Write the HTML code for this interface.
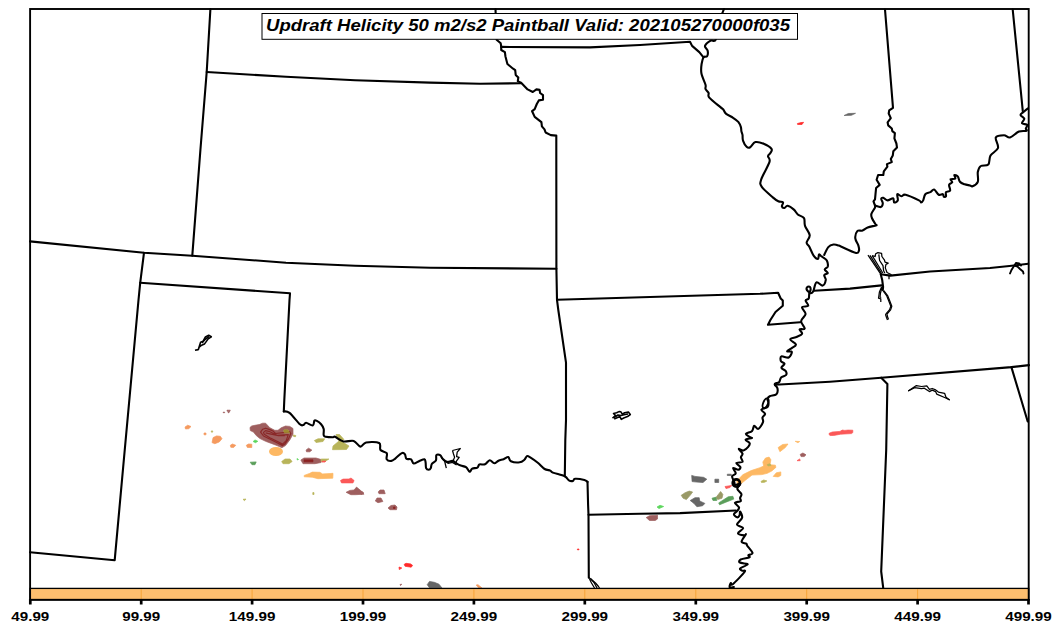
<!DOCTYPE html>
<html><head><meta charset="utf-8"><style>
html,body{margin:0;padding:0;background:#fff;width:1062px;height:633px;overflow:hidden}
svg{display:block}
text{font-family:"Liberation Sans",sans-serif}
</style></head><body>
<svg width="1062" height="633" viewBox="0 0 1062 633">
<rect x="0" y="0" width="1062" height="633" fill="#fff"/>
<g>
<path d="M250.0,427.4 L251.7,426.0 L254.9,425.3 L259.2,424.6 L262.7,423.2 L265.6,423.2 L269.9,427.8 L274.8,430.3 L278.0,430.3 L281.2,427.8 L285.5,426.0 L289.8,426.4 L293.0,428.5 L293.0,434.2 L289.8,439.9 L285.5,445.6 L281.9,447.7 L277.0,445.6 L271.3,443.4 L265.6,441.3 L259.9,438.5 L256.3,435.6 L253.5,432.1 L250.3,430.6 Z" fill="#9e5e5e" stroke="#9e5e5e" stroke-width="0.7" stroke-linejoin="round"/>
<path d="M284.0,430.0 L288.0,430.0 L289.8,432.8 L284.0,432.8 Z" fill="#b8b45a" stroke="#b8b45a" stroke-width="0.7" stroke-linejoin="round"/>
<ellipse cx="276" cy="451.5" rx="7" ry="4.5" fill="#fdb863"/>
<path d="M246.3,445.3 L248.5,444.0 L251.8,444.2 L251.8,447.5 L247.4,447.5 Z" fill="#f59a5e" stroke="#f59a5e" stroke-width="0.7" stroke-linejoin="round"/>
<path d="M253.1,441.5 L255.0,439.9 L257.8,441.3 L255.5,442.7 Z" fill="#5cd65c" stroke="#5cd65c" stroke-width="0.7" stroke-linejoin="round"/>
<path d="M293.3,435.0 L295.8,435.5 L295.5,436.7 L293.6,436.5 Z" fill="#b8b45a" stroke="#b8b45a" stroke-width="0.7" stroke-linejoin="round"/>
<path d="M213.1,437.6 L216.5,435.9 L220.3,436.3 L222.0,438.7 L219.2,442.0 L214.8,443.7 L212.0,442.6 Z" fill="#f59a5e" stroke="#f59a5e" stroke-width="0.7" stroke-linejoin="round"/>
<path d="M230.3,445.3 L232.5,444.0 L235.8,445.3 L233.6,447.5 L230.8,447.3 Z" fill="#f59a5e" stroke="#f59a5e" stroke-width="0.7" stroke-linejoin="round"/>
<path d="M185.0,427.1 L187.7,425.2 L191.0,426.5 L188.8,428.7 L185.5,429.0 Z" fill="#f59a5e" stroke="#f59a5e" stroke-width="0.7" stroke-linejoin="round"/>
<path d="M204.0,433.0 L206.0,433.0 L206.0,434.8 L204.0,434.8 Z" fill="#f59a5e" stroke="#f59a5e" stroke-width="0.7" stroke-linejoin="round"/>
<path d="M211.0,431.0 L213.0,431.0 L212.0,432.6 Z" fill="#b8b45a" stroke="#b8b45a" stroke-width="0.7" stroke-linejoin="round"/>
<path d="M223.1,412.2 L224.7,412.2 L224.7,412.7 L223.1,412.7 Z" fill="#9e5e5e" stroke="#9e5e5e" stroke-width="0.7" stroke-linejoin="round"/>
<path d="M227.0,410.2 L230.3,410.2 L229.0,412.7 L228.0,412.7 L228.5,411.2 L227.0,411.2 Z" fill="#9e5e5e" stroke="#9e5e5e" stroke-width="0.7" stroke-linejoin="round"/>
<path d="M314.4,440.5 L318.0,438.8 L324.7,438.8 L323.0,441.5 L316.0,442.5 Z" fill="#b8b45a" stroke="#b8b45a" stroke-width="0.7" stroke-linejoin="round"/>
<path d="M336.0,434.5 L339.5,434.5 L344.0,439.5 L341.0,441.0 L349.0,446.0 L346.5,449.5 L332.5,449.7 L333.0,446.0 L339.0,441.0 Z" fill="#b8b45a" stroke="#b8b45a" stroke-width="0.7" stroke-linejoin="round"/>
<path d="M306.1,450.0 L308.5,448.2 L311.8,450.0 L310.0,451.8 L306.5,451.8 Z" fill="#9e5e5e" stroke="#9e5e5e" stroke-width="0.7" stroke-linejoin="round"/>
<path d="M281.7,461.5 L285.0,459.0 L290.0,459.0 L292.1,461.5 L289.0,463.7 L283.0,463.7 Z" fill="#b8b45a" stroke="#b8b45a" stroke-width="0.7" stroke-linejoin="round"/>
<path d="M300.9,460.0 L304.0,458.0 L316.0,458.0 L321.1,459.5 L321.1,462.5 L315.0,463.7 L303.0,463.7 Z" fill="#9e5e5e" stroke="#9e5e5e" stroke-width="0.7" stroke-linejoin="round"/>
<path d="M304.0,459.8 L313.0,459.8 L313.0,461.8 L304.0,461.8 Z" fill="#8b2222" stroke="#8b2222" stroke-width="0.7" stroke-linejoin="round"/>
<path d="M321.1,459.0 L328.9,459.0 L325.0,461.5 L321.1,461.5 Z" fill="#b8b45a" stroke="#b8b45a" stroke-width="0.7" stroke-linejoin="round"/>
<path d="M322.0,461.1 L325.8,461.1 L325.0,462.1 L322.0,462.1 Z" fill="#fb5858" stroke="#fb5858" stroke-width="0.7" stroke-linejoin="round"/>
<path d="M297.0,458.5 L298.5,459.5 L297.3,460.0 Z" fill="#5cd65c" stroke="#5cd65c" stroke-width="0.7" stroke-linejoin="round"/>
<path d="M304.2,475.4 L309.4,473.5 L312.2,472.1 L319.8,472.3 L322.6,473.9 L330.1,473.5 L333.0,473.3 L332.8,478.2 L317.9,478.7 L312.2,477.2 L304.2,476.8 Z" fill="#fdb863" stroke="#fdb863" stroke-width="0.7" stroke-linejoin="round"/>
<path d="M340.5,480.5 L343.0,479.1 L349.0,479.0 L351.0,478.0 L354.1,480.5 L353.0,482.9 L341.5,482.9 Z" fill="#fb5858" stroke="#fb5858" stroke-width="0.7" stroke-linejoin="round"/>
<path d="M346.1,492.3 L349.9,490.4 L354.1,490.0 L356.5,487.1 L358.9,489.0 L362.1,491.8 L364.0,494.2 L355.6,494.7 L350.8,494.7 Z" fill="#9e5e5e" stroke="#9e5e5e" stroke-width="0.7" stroke-linejoin="round"/>
<path d="M378.2,492.0 L380.0,490.0 L384.0,490.0 L385.2,493.7 L379.0,493.7 Z" fill="#9e5e5e" stroke="#9e5e5e" stroke-width="0.7" stroke-linejoin="round"/>
<path d="M375.3,501.0 L377.0,498.0 L381.0,498.0 L382.9,501.5 L378.0,502.7 Z" fill="#9e5e5e" stroke="#9e5e5e" stroke-width="0.7" stroke-linejoin="round"/>
<path d="M388.0,508.0 L391.0,505.5 L395.0,505.0 L397.0,507.0 L396.5,509.7 L390.0,509.7 Z" fill="#9e5e5e" stroke="#9e5e5e" stroke-width="0.7" stroke-linejoin="round"/>
<path d="M393.5,507.0 L395.0,507.0 L395.0,508.5 L393.5,508.5 Z" fill="#8b2222" stroke="#8b2222" stroke-width="0.7" stroke-linejoin="round"/>
<path d="M404.1,564.4 L406.0,563.3 L410.7,563.9 L412.6,565.4 L411.2,567.2 L405.1,566.3 Z" fill="#ff2a2a" stroke="#ff2a2a" stroke-width="0.7" stroke-linejoin="round"/>
<path d="M399.0,567.0 L401.8,568.0 L399.3,569.6 Z" fill="#ff2a2a" stroke="#ff2a2a" stroke-width="0.7" stroke-linejoin="round"/>
<path d="M427.2,584.7 L429.5,581.4 L434.3,582.3 L439.0,584.2 L441.8,587.8 L429.5,587.8 Z" fill="#666666" stroke="#666666" stroke-width="0.7" stroke-linejoin="round"/>
<path d="M476.2,585.0 L478.0,584.7 L481.8,587.8 L478.5,587.8 Z" fill="#f59a5e" stroke="#f59a5e" stroke-width="0.7" stroke-linejoin="round"/>
<path d="M400.0,584.5 L401.8,584.2 L400.5,585.6 Z" fill="#9e5e5e" stroke="#9e5e5e" stroke-width="0.7" stroke-linejoin="round"/>
<path d="M360.0,492.5 L362.0,491.4 L363.8,493.0 L361.0,494.6 Z" fill="#9e5e5e" stroke="#9e5e5e" stroke-width="0.7" stroke-linejoin="round"/>
<path d="M577.4,549.0 L579.0,549.0 L579.0,549.8 L577.4,549.8 Z" fill="#ff2a2a" stroke="#ff2a2a" stroke-width="0.7" stroke-linejoin="round"/>
<path d="M691.7,475.4 L695.0,476.4 L703.5,477.3 L706.8,479.2 L703.0,482.5 L696.9,482.1 L692.1,481.6 Z" fill="#666666" stroke="#666666" stroke-width="0.7" stroke-linejoin="round"/>
<path d="M714.9,479.2 L718.7,479.2 L718.7,482.5 L714.9,482.5 Z" fill="#666666" stroke="#666666" stroke-width="0.7" stroke-linejoin="round"/>
<path d="M725.0,486.5 L731.8,485.4 L730.0,487.5 L726.0,488.6 Z" fill="#fb5858" stroke="#fb5858" stroke-width="0.7" stroke-linejoin="round"/>
<path d="M681.2,495.3 L685.5,492.5 L689.3,491.1 L692.6,492.0 L690.2,495.3 L686.4,499.6 L683.1,498.2 Z" fill="#999966" stroke="#999966" stroke-width="0.7" stroke-linejoin="round"/>
<path d="M690.2,500.5 L695.0,497.7 L699.2,497.7 L699.7,501.0 L704.9,503.4 L702.6,505.8 L696.9,506.7 L694.0,503.4 Z" fill="#666666" stroke="#666666" stroke-width="0.7" stroke-linejoin="round"/>
<path d="M715.8,497.7 L720.6,491.5 L722.9,494.4 L722.0,498.2 L717.7,499.6 Z" fill="#999966" stroke="#999966" stroke-width="0.7" stroke-linejoin="round"/>
<path d="M712.0,498.2 L715.8,497.2 L716.8,500.5 L713.0,500.5 Z" fill="#5a9e5a" stroke="#5a9e5a" stroke-width="0.7" stroke-linejoin="round"/>
<path d="M718.7,502.9 L728.2,496.8 L732.9,496.3 L733.8,499.1 L725.3,502.4 L719.6,504.8 Z" fill="#5a9e5a" stroke="#5a9e5a" stroke-width="0.7" stroke-linejoin="round"/>
<path d="M657.0,507.0 L660.0,505.3 L663.7,506.5 L659.0,508.6 Z" fill="#5cd65c" stroke="#5cd65c" stroke-width="0.7" stroke-linejoin="round"/>
<path d="M646.2,517.6 L649.5,515.7 L657.5,515.2 L657.5,519.0 L655.2,520.5 L649.5,520.5 Z" fill="#9e5e5e" stroke="#9e5e5e" stroke-width="0.7" stroke-linejoin="round"/>
<path d="M736.7,480.9 L743.0,474.6 L751.1,470.6 L759.2,467.9 L763.7,466.1 L762.8,462.0 L765.5,458.0 L769.1,457.1 L770.9,459.8 L770.0,464.7 L775.4,465.2 L775.9,467.4 L771.8,471.0 L767.3,473.3 L761.9,474.6 L752.0,475.1 L745.7,480.0 L741.2,483.6 L737.6,485.4 Z" fill="#fdb863" stroke="#fdb863" stroke-width="0.7" stroke-linejoin="round"/>
<path d="M767.3,464.5 L770.0,463.8 L771.0,465.5 L768.0,466.0 Z" fill="#b8b45a" stroke="#b8b45a" stroke-width="0.7" stroke-linejoin="round"/>
<path d="M773.2,476.4 L776.3,472.8 L780.8,471.9 L780.8,475.5 L778.1,476.9 Z" fill="#fdb863" stroke="#fdb863" stroke-width="0.7" stroke-linejoin="round"/>
<path d="M778.1,447.6 L782.6,444.5 L788.0,444.0 L785.3,447.6 L779.9,451.7 Z" fill="#fdb863" stroke="#fdb863" stroke-width="0.7" stroke-linejoin="round"/>
<path d="M795.2,441.3 L799.7,441.5 L797.9,442.7 Z" fill="#fdb863" stroke="#fdb863" stroke-width="0.7" stroke-linejoin="round"/>
<path d="M761.0,481.4 L763.7,480.0 L766.9,480.9 L764.6,482.3 L761.5,482.5 Z" fill="#b8b45a" stroke="#b8b45a" stroke-width="0.7" stroke-linejoin="round"/>
<path d="M800.2,454.4 L802.9,453.0 L806.0,454.8 L804.2,456.6 L801.1,456.6 Z" fill="#9e5e5e" stroke="#9e5e5e" stroke-width="0.7" stroke-linejoin="round"/>
<path d="M797.0,460.7 L799.7,458.9 L800.2,460.7 Z" fill="#fb5858" stroke="#fb5858" stroke-width="0.7" stroke-linejoin="round"/>
<path d="M829.1,433.3 L832.3,432.0 L840.0,431.4 L842.2,430.1 L844.8,430.4 L848.0,430.1 L852.8,430.2 L852.8,432.6 L851.5,433.6 L840.6,434.2 L833.6,435.5 L830.1,435.5 L829.1,434.6 Z" fill="#fb5858" stroke="#fb5858" stroke-width="0.7" stroke-linejoin="round"/>
<path d="M250.2,462.2 L256.2,461.9 L255.0,464.7 L252.0,464.7 Z" fill="#5a9e5a" stroke="#5a9e5a" stroke-width="0.7" stroke-linejoin="round"/>
<path d="M243.0,499.3 L246.0,499.0 L244.5,500.7 Z" fill="#b8b45a" stroke="#b8b45a" stroke-width="0.7" stroke-linejoin="round"/>
<path d="M312.8,492.6 L314.0,492.6 L314.0,494.5 L312.8,494.5 Z" fill="#b8b45a" stroke="#b8b45a" stroke-width="0.7" stroke-linejoin="round"/>
<path d="M727.3,474.2 L731.3,474.2 L731.3,475.5 L727.3,475.5 Z" fill="#666666" stroke="#666666" stroke-width="0.7" stroke-linejoin="round"/>
<path d="M844.1,115.5 L848.3,113.5 L855.5,113.3 L851.4,115.3 Z" fill="#666666" stroke="#666666" stroke-width="0.7" stroke-linejoin="round"/>
<path d="M797.4,123.5 L801.0,122.6 L803.6,122.3 L802.0,124.5 L797.6,124.5 Z" fill="#ff2a2a" stroke="#ff2a2a" stroke-width="0.7" stroke-linejoin="round"/>
<path d="M260.6,432.1 L262.7,429.2 L265.6,428.2 L269.9,429.6 L273.4,431.3 L275.5,433.5 L285.5,432.4 L289.8,431.7 L290.8,433.5 L288.3,439.2 L284.8,444.1 L282.6,445.6 L277,442.7 L270.6,439.5 L263.5,436 Z M263.5,432.4 L265.6,430.6 L269.9,431.7 L274.1,433.8 L277,435.3 L288.3,434.6 L286.2,440.6 L282.6,444.1 L277,441.3 L269.9,437.7 L264.2,434.2 Z M265.6,432.8 L269.9,433.8 L278.4,435.6 L284.8,435.6" fill="none" stroke="#8a2828" stroke-width="1.2" stroke-linejoin="round"/>
<path d="M284,430 L287.5,429.8 L289.8,432.6 L284.2,432.8 Z" fill="#a08a30" stroke="#a08a30" stroke-width="0.6"/>
</g>
<g fill="none" stroke="#000" stroke-width="2.1" stroke-linejoin="round" stroke-linecap="round">
<path d="M210.4,9.0 L206.7,72.0 L200.4,150.0 L192.3,255.7"/>
<path d="M206.7,72.0 L286.0,76.8 L355.0,80.2 L430.0,82.6 L480.0,83.7 L520.9,83.2"/>
<path d="M30.0,241.4 L144.0,252.7 L192.3,255.7 L286.0,262.7 L355.0,265.7 L430.3,267.7 L556.4,268.8"/>
<path d="M144.0,252.7 L140.2,282.8 L138.5,300.0 L124.0,458.0 L114.7,560.2 L30.0,552.2"/>
<path d="M140.2,282.8 L290.0,293.3 L289.5,300.0 L284.3,400.0 L283.8,411.4"/>
<path d="M283.8,411.4 C284.8,411.6 286.8,410.8 289.5,412.9 C292.2,415.0 297.6,422.3 299.9,424.3 C302.2,426.3 302.5,425.1 303.5,424.9 C304.5,424.6 304.6,422.7 306.1,422.8 C307.7,422.9 311.4,425.8 312.8,425.4 C314.2,425.0 313.8,421.5 314.4,420.7 C315.0,419.9 315.3,420.1 316.4,420.7 C317.5,421.3 319.9,422.9 321.1,424.3 C322.3,425.7 323.3,427.2 323.7,429.0 C324.1,430.8 323.3,433.9 323.7,435.2 C324.1,436.5 324.2,436.4 325.8,436.8 C327.4,437.2 331.4,437.3 333.0,437.3 C334.6,437.3 333.4,436.1 335.1,436.8 C336.8,437.5 340.3,440.7 343.4,441.4 C346.5,442.1 350.9,440.0 353.7,440.9 C356.5,441.8 358.3,446.3 360.4,446.6 C362.5,446.9 363.0,443.1 366.1,442.5 C369.2,441.9 376.7,441.8 379.1,443.0 C381.5,444.2 379.2,448.3 380.5,450.0 C381.8,451.7 385.7,451.6 386.7,453.1 C387.7,454.7 385.9,458.0 386.7,459.3 C387.5,460.6 389.9,461.1 391.4,460.9 C392.9,460.7 393.8,459.6 395.5,458.3 C397.2,457.0 400.2,453.8 401.8,453.1 C403.4,452.4 404.1,453.2 404.9,454.2 C405.7,455.1 405.4,457.9 406.4,458.8 C407.4,459.7 409.9,458.5 411.1,459.3 C412.3,460.1 412.3,463.2 413.7,463.5 C415.1,463.8 417.6,461.6 419.4,460.9 C421.2,460.2 423.5,459.1 424.5,459.3 C425.5,459.6 425.3,460.9 425.6,462.4 C425.9,463.9 425.6,466.9 426.1,468.1 C426.6,469.3 427.9,469.7 428.7,469.7 C429.5,469.7 430.3,469.1 430.8,468.1 C431.3,467.2 431.0,465.3 431.8,464.0 C432.6,462.7 435.1,461.9 435.9,460.4 C436.7,458.9 435.7,456.1 436.4,455.2 C437.1,454.3 439.0,454.5 440.1,455.2 C441.2,455.9 442.0,458.2 443.2,459.3 C444.4,460.4 445.8,461.6 447.3,461.9 C448.9,462.2 450.9,460.6 452.5,460.9 C454.1,461.2 455.2,462.7 456.6,463.5 C458.0,464.3 459.2,465.0 460.8,465.6 C462.4,466.2 464.5,466.1 466.0,467.1 C467.5,468.1 468.6,471.5 469.6,471.8 C470.6,472.1 470.9,469.4 472.2,468.7 C473.5,468.0 476.2,468.3 477.4,467.6 C478.6,466.9 478.1,465.1 479.4,464.5 C480.7,463.9 483.3,465.0 485.0,464.3 C486.7,463.6 488.1,460.4 489.7,460.2 C491.2,460.0 492.8,463.2 494.3,463.3 C495.8,463.4 496.9,461.4 498.5,460.7 C500.1,460.0 502.0,459.8 503.6,459.2 C505.2,458.6 507.1,456.8 508.3,457.1 C509.5,457.4 509.0,460.3 510.9,461.2 C512.8,462.1 517.5,462.6 519.7,462.3 C522.0,462.1 523.2,460.7 524.4,459.7 C525.6,458.7 526.0,456.5 527.0,456.1 C528.0,455.8 528.8,456.5 530.6,457.6 C532.4,458.7 535.5,460.9 537.8,462.8 C540.1,464.7 542.5,467.7 544.6,469.0 C546.7,470.3 548.9,470.0 550.3,470.6 C551.7,471.2 550.4,471.7 552.8,472.6 C555.2,473.6 562.1,475.0 564.8,476.3 C567.5,477.6 567.5,479.6 568.9,480.4 C570.3,481.2 572.0,481.2 573.0,480.9 C574.0,480.6 573.2,479.0 575.1,478.8 C577.0,478.6 582.3,479.4 584.4,479.9 C586.5,480.4 587.0,481.6 587.5,481.9"/>
<path d="M557.0,299.8 L558.3,310.0 L566.0,362.7 L566.0,420.0 L565.3,440.0 L564.8,476.3"/>
<path d="M587.5,481.9 L588.1,505.0 L588.5,514.7 L588.8,577.8"/>
<path d="M588.5,514.7 L640.0,513.8 L680.0,513.1 L735.9,510.5"/>
<path d="M495.5,9.0 L496.6,39.7 L500.7,43.3 L501.2,46.4 L501.2,50.0 L504.9,52.1 L505.4,56.2 L507.4,64.0 L513.1,68.7 L515.2,70.2 L515.7,74.9 L518.3,77.5 L517.8,81.1 L520.9,82.6 L527.6,89.4 L532.8,92.0 L536.4,89.4 L539.6,89.9 L540.1,93.0 L543.0,95.2 L543.0,99.8 L538.8,100.4 L536.8,104.0 L534.7,109.2 L532.1,111.2 L534.7,116.9 L541.4,122.1 L541.9,126.3 L544.5,129.4 L545.6,132.5 L550.8,135.1 L556.3,135.6 L556.3,155.0 L556.4,269.0 L557.0,299.8"/>
<path d="M501.2,46.9 L590.0,47.4 L640.0,45.0 L690.0,41.7 L692.1,45.9 L699.3,52.1 L703.5,57.3"/>
<path d="M724.0,9.0 C723.3,10.8 721.4,14.9 720.0,20.0 C718.6,25.1 717.4,35.9 715.9,39.4 C714.4,42.9 712.5,39.6 710.7,40.7 C708.9,41.8 705.5,44.3 705.0,45.9 C704.5,47.5 707.2,48.8 707.6,50.5 C708.0,52.2 707.8,55.1 707.1,56.2 C706.4,57.3 704.4,56.0 703.5,57.3 C702.6,58.6 702.0,61.3 701.6,64.0 C701.2,66.7 700.8,69.8 701.4,73.3 C702.0,76.8 704.8,82.1 705.5,84.7 C706.2,87.3 705.0,87.5 705.5,88.9 C706.0,90.3 708.0,91.5 708.6,93.0 C709.2,94.5 707.3,95.2 709.3,97.6 C711.3,100.0 718.4,105.4 720.7,107.4 C723.0,109.4 722.4,108.5 723.3,109.5 C724.2,110.5 724.3,112.2 725.9,113.6 C727.5,115.0 731.0,116.4 733.1,117.8 C735.2,119.2 737.0,120.4 738.3,121.9 C739.6,123.5 740.4,125.5 740.9,127.1 C741.4,128.7 741.1,130.0 741.4,131.3 C741.7,132.6 742.2,133.4 742.5,134.9 C742.8,136.4 742.3,138.6 743.0,140.6 C743.7,142.6 745.4,145.7 746.6,146.8 C747.8,147.9 748.7,148.1 750.2,147.3 C751.7,146.5 753.1,142.7 755.4,142.1 C757.6,141.5 761.0,142.6 763.7,143.7 C766.4,144.8 770.4,147.3 771.5,148.9 C772.6,150.5 771.0,151.8 770.4,153.0 C769.8,154.2 768.1,154.7 768.0,156.2 C767.9,157.7 770.6,158.0 769.5,161.9 C768.4,165.8 762.5,175.3 761.2,179.5 C759.9,183.7 759.8,183.8 761.8,186.8 C763.8,189.8 770.4,195.2 773.1,197.6 C775.9,200.0 776.6,200.5 778.3,201.3 C779.9,202.1 782.4,201.5 783.0,202.3 C783.6,203.2 781.6,205.5 781.9,206.4 C782.1,207.3 783.5,208.1 784.5,208.0 C785.5,207.9 786.0,205.4 787.6,205.7 C789.2,206.0 792.2,208.1 793.9,209.6 C795.6,211.1 796.1,213.1 797.8,214.5 C799.5,215.9 802.8,216.2 804.0,218.1 C805.2,220.0 804.0,223.1 805.0,225.9 C806.0,228.8 809.4,232.4 809.7,235.2 C810.0,238.0 806.7,240.6 806.6,242.5 C806.5,244.4 808.0,244.4 809.2,246.6 C810.4,248.8 812.3,253.8 813.8,255.9 C815.3,258.0 817.1,259.2 818.0,259.0 C818.9,258.8 818.5,254.9 819.0,254.4 C819.5,253.9 820.3,255.5 821.0,256.0 C821.7,256.5 822.1,256.7 823.1,257.5 C824.1,258.3 826.0,259.1 826.8,260.6 C827.6,262.1 828.1,264.9 827.8,266.4 C827.4,267.9 824.7,268.4 824.7,269.5 C824.7,270.6 827.9,272.2 827.8,273.1 C827.7,274.1 824.5,274.1 824.2,275.2 C823.9,276.3 826.0,278.2 825.8,279.9 C825.5,281.6 824.3,285.2 822.7,285.6 C821.1,286.0 818.0,281.4 816.4,282.4 C814.8,283.3 814.2,289.5 813.3,291.3 C812.4,293.1 811.6,293.1 810.8,293.2 C809.9,293.2 808.9,292.3 808.2,291.6 C807.5,290.9 806.6,289.8 806.5,289.0 C806.4,288.2 807.2,287.1 807.8,286.8 C808.4,286.5 809.5,286.5 810.0,287.0 C810.5,287.5 810.7,288.8 810.6,289.8 C810.5,290.8 809.6,291.6 809.3,293.0 C809.0,294.4 809.3,297.2 808.7,298.5 C808.1,299.8 805.7,299.4 805.6,300.6 C805.5,301.8 808.8,304.7 808.2,305.8 C807.6,306.9 802.4,305.9 802.0,307.3 C801.6,308.7 805.8,311.7 805.6,314.0 C805.5,316.3 801.2,318.8 801.1,321.2 C801.0,323.6 805.0,327.1 804.7,328.5 C804.5,329.9 800.0,328.6 799.6,329.5 C799.2,330.4 802.5,332.4 802.1,333.6 C801.7,334.8 799.0,335.9 797.0,336.8 C795.0,337.8 790.4,338.0 790.2,339.3 C790.0,340.6 795.6,343.0 795.9,344.5 C796.2,346.0 793.3,347.0 791.8,348.1 C790.3,349.2 787.1,350.7 787.1,351.3 C787.1,351.9 791.5,350.8 791.8,351.8 C792.1,352.8 790.4,356.7 788.7,357.5 C787.0,358.3 782.7,355.8 781.4,356.4 C780.1,357.0 780.4,359.9 780.9,361.1 C781.4,362.3 784.4,362.6 784.5,363.7 C784.6,364.8 781.2,366.6 781.4,367.8 C781.6,369.0 784.8,369.7 785.6,370.9 C786.4,372.1 786.9,373.9 786.1,375.0 C785.4,376.1 782.3,376.4 781.1,377.6 C779.9,378.8 780.0,381.4 779.0,382.3 C778.0,383.2 776.1,382.9 775.4,383.3 C774.7,383.7 774.5,383.9 774.9,384.8 C775.2,385.7 777.2,386.9 777.5,388.5 C777.8,390.1 777.7,392.9 776.4,394.2 C775.1,395.5 771.2,395.4 769.7,396.2 C768.2,397.0 767.7,397.9 767.5,399.0 C767.3,400.1 768.5,401.6 768.5,403.0 C768.5,404.4 768.8,406.0 767.6,407.1 C766.4,408.2 761.8,408.6 761.4,409.7 C761.0,410.8 764.9,412.5 765.1,413.8 C765.3,415.1 762.9,416.1 762.5,417.5 C762.1,418.9 763.7,420.2 763.0,422.1 C762.3,424.0 759.8,428.3 758.3,428.9 C756.8,429.5 755.2,425.5 754.2,425.8 C753.2,426.1 753.5,429.5 752.1,430.9 C750.7,432.3 746.2,433.0 745.9,434.0 C745.5,435.0 749.0,436.4 750.0,437.1 C751.0,437.8 752.5,437.7 751.8,438.1 C751.1,438.5 746.0,438.8 745.6,439.7 C745.2,440.6 749.3,442.1 749.7,443.3 C750.1,444.5 749.2,445.7 748.2,446.9 C747.2,448.1 745.1,450.1 743.5,450.5 C741.9,450.9 739.0,448.5 738.8,449.0 C738.6,449.5 742.1,452.2 742.5,453.6 C742.9,455.0 740.9,455.9 740.9,457.3 C740.9,458.7 743.3,460.9 742.5,461.9 C741.7,462.8 736.6,462.1 736.3,463.0 C735.9,463.9 740.1,466.0 740.4,467.1 C740.7,468.2 739.5,469.5 738.3,469.7 C737.1,469.9 733.5,467.5 733.1,468.1 C732.7,468.7 735.9,471.9 735.7,473.3 C735.5,474.7 732.4,475.0 732.1,476.4 C731.9,477.8 733.7,480.2 734.2,481.6 C734.7,483.0 734.2,484.4 735.2,484.7 C736.2,485.0 740.0,483.0 740.4,483.7 C740.8,484.4 737.1,487.2 737.3,488.9 C737.5,490.6 740.9,492.5 741.4,494.0 C741.9,495.5 740.2,496.9 740.1,498.1 C740.0,499.3 741.5,500.4 740.6,501.2 C739.7,502.0 735.2,501.8 734.9,502.8 C734.6,503.8 738.6,506.0 739.0,507.4 C739.4,508.8 737.9,510.0 737.0,511.1 C736.1,512.2 733.9,513.2 733.9,514.2 C733.9,515.2 736.0,517.1 737.0,517.3 C738.0,517.5 739.1,516.2 739.6,515.2 C740.1,514.2 739.7,511.2 740.1,511.6 C740.5,512.0 742.6,515.6 742.1,517.8 C741.6,519.9 736.8,522.8 737.0,524.5 C737.2,526.2 743.0,526.6 743.2,528.1 C743.4,529.6 737.8,532.1 738.0,533.3 C738.2,534.5 742.9,535.2 744.2,535.4 C745.5,535.6 746.2,533.4 745.8,534.4 C745.4,535.4 741.5,540.0 741.6,541.6 C741.7,543.2 745.3,543.0 746.3,543.7 C747.2,544.4 746.3,544.2 747.3,545.8 C748.3,547.3 752.3,551.4 752.5,553.0 C752.7,554.6 748.9,554.5 748.4,555.2 C747.9,555.9 750.6,556.6 749.4,557.3 C748.2,558.0 742.7,558.4 741.1,559.3 C739.5,560.1 738.6,561.6 739.6,562.4 C740.6,563.2 746.3,563.5 747.3,564.0 C748.3,564.5 747.0,564.7 745.8,565.5 C744.6,566.3 740.7,567.7 740.1,568.6 C739.5,569.5 741.3,570.2 742.1,570.7 C742.9,571.2 746.2,569.5 744.7,571.8 C743.2,574.0 735.1,582.3 732.8,584.2 C730.5,586.1 731.3,582.6 730.8,583.1 C730.3,583.6 729.2,586.6 729.7,587.3 C730.2,587.9 733.2,587.0 733.9,587.0"/>
<path d="M885.0,9.5 L893.0,107.8 L889.2,110.4 L888.7,113.5 L890.8,118.1 L887.6,122.3 L888.2,125.4 L891.8,128.5 L892.3,131.1 L894.9,133.1 L894.4,138.3 L896.4,143.5 L897.0,147.6 L893.3,151.3 L892.8,155.4 L890.8,159.0 L891.8,162.1 L886.9,164.1 L887.4,166.7 L883.8,171.4 L883.3,175.0 L878.1,175.0 L876.6,179.7 L879.7,184.9 L876.1,188.0 L875.5,194.2 L875.0,199.4 L873.5,201.4 L875.0,205.6"/>
<path d="M875.0,205.6 C875.0,205.9 875.6,206.2 875.0,207.6 C874.4,209.0 871.9,212.2 871.4,213.9 C870.9,215.6 871.2,216.3 871.9,218.0 C872.6,219.7 874.8,223.0 875.5,224.2 C876.2,225.4 877.3,224.9 876.0,225.4 C874.7,225.9 870.0,226.5 867.7,227.4 C865.5,228.3 864.2,230.0 862.5,230.6 C860.8,231.2 858.5,229.8 857.3,231.1 C856.1,232.4 855.1,235.9 855.3,238.3 C855.5,240.7 857.8,243.5 858.4,245.6 C859.0,247.7 859.4,249.5 858.9,250.7 C858.4,251.9 858.7,253.7 855.3,252.8 C851.9,252.0 842.3,247.0 838.7,245.6 C835.1,244.2 835.2,244.2 833.5,244.5 C831.8,244.8 829.8,245.4 828.3,247.1 C826.8,248.8 824.9,253.6 824.2,254.9"/>
<path d="M875.0,205.6 C876.0,205.8 879.4,207.4 880.7,207.1 C882.0,206.8 882.7,204.9 882.8,203.5 C882.9,202.1 881.1,199.8 881.2,198.8 C881.3,197.9 882.3,197.5 883.3,197.8 C884.3,198.1 885.8,200.3 887.4,200.4 C889.0,200.5 892.0,198.0 893.1,198.3 C894.2,198.7 893.4,202.2 894.2,202.5 C895.0,202.8 897.3,201.8 897.8,200.4 C898.3,199.0 896.7,194.9 897.3,194.2 C897.9,193.5 900.0,196.2 901.4,196.3 C902.8,196.4 902.7,194.0 905.6,194.7 C908.5,195.4 916.4,199.1 919.0,200.4 C921.6,201.7 920.4,202.5 921.1,202.5 C921.8,202.5 922.5,201.8 923.2,200.4 C923.9,199.0 924.1,195.6 925.3,194.2 C926.5,192.8 928.9,192.9 930.4,192.1 C931.9,191.3 932.7,189.1 934.1,189.5 C935.5,189.9 937.2,193.9 938.7,194.7 C940.2,195.5 942.0,193.8 942.9,194.2 C943.8,194.5 943.4,196.5 943.9,196.8 C944.4,197.2 945.6,197.1 946.0,196.3 C946.4,195.5 945.3,193.1 946.0,192.1 C946.7,191.1 949.6,191.8 950.1,190.6 C950.6,189.4 948.8,186.3 949.1,184.9 C949.5,183.5 952.0,183.2 952.2,182.3 C952.5,181.4 950.1,179.8 950.6,179.2 C951.1,178.6 954.7,179.3 955.3,178.6 C955.9,177.9 953.9,175.3 954.3,175.0 C954.7,174.7 957.0,175.5 957.9,176.6 C958.8,177.7 958.8,180.5 959.9,181.8 C961.0,183.1 962.9,183.7 964.6,184.3 C966.3,184.9 968.7,185.1 970.0,185.4 C971.3,185.7 971.2,186.9 972.5,186.3 C973.8,185.7 976.9,184.2 977.8,181.8 C978.7,179.4 977.3,174.6 977.8,172.0 C978.3,169.4 979.0,167.2 980.8,166.0 C982.5,164.8 986.7,166.2 988.3,164.5 C989.9,162.8 988.9,158.2 990.5,155.5 C992.1,152.8 997.1,151.0 998.0,148.0 C998.9,145.0 994.8,139.6 995.8,137.5 C996.8,135.4 1001.6,135.3 1004.0,135.3 C1006.4,135.3 1007.5,138.1 1010.0,137.5 C1012.5,136.9 1016.2,132.6 1019.0,131.5 C1021.8,130.4 1025.4,131.3 1026.5,130.8 C1027.6,130.3 1025.7,129.5 1025.8,128.5 C1025.9,127.5 1027.9,125.7 1027.3,124.8 C1026.7,123.9 1022.5,124.3 1022.0,123.3 C1021.5,122.3 1024.5,120.2 1024.3,118.8 C1024.0,117.4 1020.6,116.1 1020.5,115.0 C1020.4,113.9 1022.2,113.1 1023.5,112.0 C1024.8,110.9 1027.2,108.9 1028.0,108.3"/>
<path d="M1012.7,9.5 L1021.7,100.0 L1022.8,111.3"/>
<path d="M813.9,290.7 L850.0,288.6 L881.6,285.4"/>
<path d="M880.8,274.2 L890.4,275.6 L930.0,271.5 L990.0,268.0 L1009.4,266.0 L1028.2,263.8"/>
<path d="M774.9,384.8 L830.0,381.7 L881.2,377.7 L1011.4,367.1 L1029.0,365.1"/>
<path d="M881.2,377.7 L887.4,383.9 L886.2,450.0 L881.2,571.5 L883.2,587.8"/>
<path d="M1011.4,367.1 L1027.7,421.5"/>
<path d="M557.0,299.8 L760.0,293.8 L778.1,292.8 L780.7,298.5 L782.8,300.6 L782.8,305.8 L775.5,312.0 L770.4,320.0 L768.0,324.8 L800.1,322.3"/>
<path d="M880.8,274.5 L882.2,280.0 L883.1,286.8 L882.8,290.0"/>
</g>
<g fill="none" stroke="#000" stroke-width="1.25" stroke-linejoin="round">
<path d="M868.0,255.1 L880.8,274.2"/>
<path d="M870.0,255.4 L881.6,273.6"/>
<path d="M872.2,255.7 L875.1,256.5 L875.7,253.7 L877.9,252.6 L881.6,253.4 L881.9,256.5 L884.5,260.2 L885.0,262.2 L888.2,263.1 L885.9,264.5 L885.3,267.9 L887.0,272.5 L891.6,274.7"/>
<path d="M872.2,255.7 L882.8,273.0"/>
<path d="M878.8,254.3 L879.6,260.5 L883.0,265.6 L883.6,270.8 L884.8,273.0"/>
<path d="M889.0,274.7 L889.0,279.3"/>
<path d="M881.7,286.8 L879.4,292.0 L878.8,296.5 L878.5,298.2 L880.8,298.8 L880.8,301.9"/>
<path d="M882.0,287.0 L880.5,293.0 L880.0,297.0 L881.2,297.5"/>
<path d="M882.8,290.5 L886.8,295.9 L889.0,301.6 L890.8,306.2 L889.6,309.6 L886.2,313.6 L885.6,314.7 L886.5,317.5 L887.5,320.0"/>
<path d="M883.8,290.5 L887.8,295.9 L890.0,301.6 L891.8,306.2 L890.6,309.8 L887.0,314.0 L887.3,316.0 L888.5,319.5"/>
<path d="M908.2,391.0 L916.4,385.6 L921.5,386.5 L926.8,385.9 L929.4,389.3 L932.2,388.5 L935.0,389.6 L938.4,392.1 L944.6,393.3 L946.0,397.2 L949.7,400.0"/>
<path d="M908.2,391.0 L914.7,387.6 L921.5,388.7 L924.3,388.2 L929.4,391.6 L932.2,390.1 L935.6,391.6 L936.7,394.1 L945.2,397.8 L949.7,400.0"/>
<path d="M452.5,450.5 L460.3,448.5 L457.2,452.1 L456.6,456.7 L459.2,457.3 L456.6,460.9 L456.1,462.4"/>
<path d="M452.5,450.5 L453.5,454.0 L454.6,457.3 L453.0,461.0"/>
<path d="M444.5,460.5 L445.3,464.0 L446.3,468.1"/>
<path d="M588.8,577.5 L592.0,580.0 L595.5,583.0 L598.5,586.5 L599.5,588.0"/>
<path d="M589.5,579.0 L591.5,583.0 L594.5,588.0"/>
<path d="M590.5,578.5 L594.0,582.5 L597.0,588.0"/>
<path d="M441.0,457.2 L444.0,460.8 L448.0,463.3 L452.5,462.4 L456.6,465.0"/>
</g>
<g fill="none" stroke="#000" stroke-width="1.6" stroke-linejoin="round">
<path d="M195.0,350.3 L198.3,349.6 L200.6,342.2 L203.0,341.3 L205.4,337.0 L208.7,335.3 L211.3,336.8 L208.2,338.9 L204.4,344.1 L201.1,345.5 L199.2,347.0 L198.3,349.8"/>
<path d="M202.0,343.0 L205.0,339.5 L209.0,336.5"/>
<path d="M612.5,418.2 L615.6,415.6 L613.5,413.5 L616.6,412.8 L619.0,411.6 L620.9,411.8 L622.3,414.2 L624.6,412.8 L628.4,412.1 L630.3,414.5 L627.5,416.6 L623.7,418.0 L621.3,419.4 L619.9,416.6 L614.2,419.0"/>
<path d="M614.0,417.5 L618.0,415.0 L621.0,415.5 L625.0,414.5 L628.0,414.0"/>
</g>
<path d="M1010,273.5 L1011.5,270 L1014,266 L1016,263 M1014.5,265.5 L1017.5,266.5 L1020,269 L1023,271.5 L1023.5,273.5 M1016,263 L1019,263.5 L1021,265.5" fill="none" stroke="#000" stroke-width="1.9" stroke-linecap="round"/>
<ellipse cx="765.6" cy="403.3" rx="2.4" ry="5.2" transform="rotate(22 765.6 403.3)" fill="none" stroke="#000" stroke-width="1.8"/>
<circle cx="736.3" cy="483" r="3.6" fill="none" stroke="#000" stroke-width="2.6"/>
<rect x="262" y="13.5" width="535.5" height="25.8" fill="#fff" stroke="#000" stroke-width="1"/>
<text x="266" y="31.2" font-size="16.7" font-weight="bold" font-style="italic" textLength="524" lengthAdjust="spacingAndGlyphs">Updraft Helicity 50 m2/s2 Paintball Valid: 202105270000f035</text>
<rect x="30.1" y="588.4" width="998.6" height="11.4" fill="#fdbf6f" stroke="#000" stroke-width="1.3"/>
<g stroke="#f5a030" stroke-width="0.9"><line x1="141.2" y1="589" x2="141.2" y2="599"/>
<line x1="252.1" y1="589" x2="252.1" y2="599"/>
<line x1="363.0" y1="589" x2="363.0" y2="599"/>
<line x1="473.9" y1="589" x2="473.9" y2="599"/>
<line x1="584.8" y1="589" x2="584.8" y2="599"/>
<line x1="695.8" y1="589" x2="695.8" y2="599"/>
<line x1="806.7" y1="589" x2="806.7" y2="599"/>
<line x1="917.6" y1="589" x2="917.6" y2="599"/></g>
<rect x="30.1" y="9" width="998.6" height="590.8" fill="none" stroke="#000" stroke-width="1.9"/>
<g stroke="#000" stroke-width="2.7"><line x1="30.3" y1="599" x2="30.3" y2="604.5"/><line x1="141.2" y1="599" x2="141.2" y2="604.5"/><line x1="252.1" y1="599" x2="252.1" y2="604.5"/><line x1="363.0" y1="599" x2="363.0" y2="604.5"/><line x1="473.9" y1="599" x2="473.9" y2="604.5"/><line x1="584.8" y1="599" x2="584.8" y2="604.5"/><line x1="695.8" y1="599" x2="695.8" y2="604.5"/><line x1="806.7" y1="599" x2="806.7" y2="604.5"/><line x1="917.6" y1="599" x2="917.6" y2="604.5"/><line x1="1028.5" y1="599" x2="1028.5" y2="604.5"/></g>
<g font-size="12.5" font-weight="bold" fill="#000"><text x="30.3" y="621" text-anchor="middle" textLength="38" lengthAdjust="spacingAndGlyphs">49.99</text><text x="141.2" y="621" text-anchor="middle" textLength="38" lengthAdjust="spacingAndGlyphs">99.99</text><text x="252.1" y="621" text-anchor="middle" textLength="46.6" lengthAdjust="spacingAndGlyphs">149.99</text><text x="363.0" y="621" text-anchor="middle" textLength="46.6" lengthAdjust="spacingAndGlyphs">199.99</text><text x="473.9" y="621" text-anchor="middle" textLength="46.6" lengthAdjust="spacingAndGlyphs">249.99</text><text x="584.8" y="621" text-anchor="middle" textLength="46.6" lengthAdjust="spacingAndGlyphs">299.99</text><text x="695.8" y="621" text-anchor="middle" textLength="46.6" lengthAdjust="spacingAndGlyphs">349.99</text><text x="806.7" y="621" text-anchor="middle" textLength="46.6" lengthAdjust="spacingAndGlyphs">399.99</text><text x="917.6" y="621" text-anchor="middle" textLength="46.6" lengthAdjust="spacingAndGlyphs">449.99</text><text x="1028.5" y="621" text-anchor="middle" textLength="46.6" lengthAdjust="spacingAndGlyphs">499.99</text></g>
</svg>
</body></html>
